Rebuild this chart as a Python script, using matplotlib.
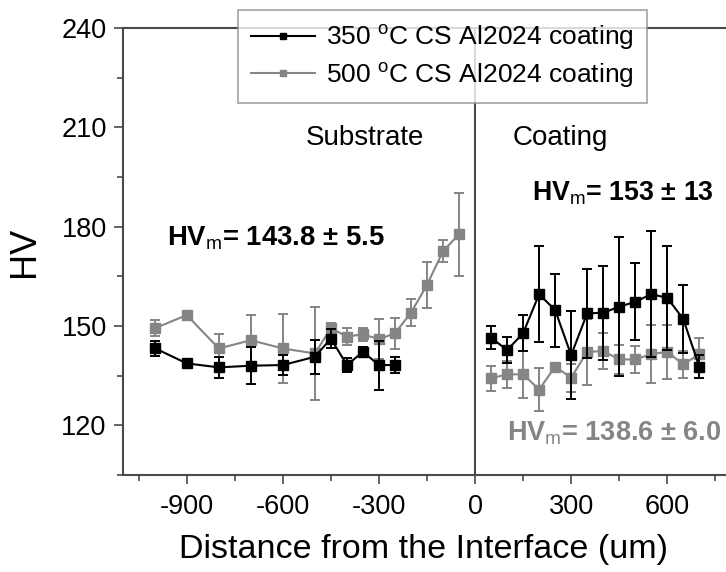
import matplotlib
matplotlib.use("Agg")
import matplotlib.pyplot as plt
import numpy as np
from matplotlib.lines import Line2D

plt.rcParams['font.family'] = ['Liberation Sans', 'DejaVu Sans']
plt.rcParams['mathtext.fontset'] = 'custom'
plt.rcParams['mathtext.rm'] = 'Liberation Sans'
plt.rcParams['mathtext.default'] = 'rm'
plt.rcParams['axes.unicode_minus'] = False

# ---- data ----
# 350 C, substrate
x350_sub = [-1000, -900, -800, -700, -600, -500, -450, -400, -350, -300, -250]
y350_sub = [143.3, 138.7, 137.5, 138.0, 138.2, 140.7, 146.2, 138.2, 142.2, 138.2, 138.2]
e350_sub = [2.3, 0.8, 3.2, 5.6, 3.0, 5.2, 3.0, 2.2, 1.5, 7.4, 2.4]
# 350 C, coating
x350_coat = [50, 100, 150, 200, 250, 300, 350, 400, 450, 500, 550, 600, 650, 700]
y350_coat = [146.5, 142.7, 147.8, 159.6, 154.8, 141.2, 153.8, 154.0, 155.8, 157.3, 159.6, 158.5, 152.1, 137.7]
e350_coat = [3.4, 4.0, 5.4, 14.5, 11.0, 13.4, 13.5, 14.2, 21.0, 11.6, 19.0, 15.8, 10.3, 3.5]
# 500 C, substrate
x500_sub = [-1000, -900, -800, -700, -600, -500, -450, -400, -350, -300, -250, -200, -150, -100, -50]
y500_sub = [149.3, 153.3, 143.2, 145.7, 143.2, 141.7, 149.3, 146.8, 147.5, 146.0, 147.8, 154.0, 162.4, 172.6, 177.7]
e500_sub = [2.4, 1.0, 4.5, 7.7, 10.5, 14.0, 1.5, 2.5, 2.0, 6.0, 4.7, 4.0, 7.0, 3.3, 12.5]
# 500 C, coating
x500_coat = [50, 100, 150, 200, 250, 300, 350, 400, 450, 500, 550, 600, 650, 700]
y500_coat = [134.2, 135.4, 135.4, 130.8, 137.7, 134.4, 142.2, 142.4, 139.9, 139.9, 141.5, 142.2, 138.4, 141.5]
e500_coat = [3.7, 4.0, 7.0, 6.6, 1.0, 4.2, 10.0, 5.4, 4.4, 4.2, 8.8, 8.2, 4.0, 4.9]

labels = ['350 $^{o}$C CS Al2024 coating', '500 $^{o}$C CS Al2024 coating']
xticks = [-900, -600, -300, 0, 300, 600]
yticks = [120, 150, 180, 210, 240]

black = '#000000'
gray = '#858585'
spine_c = '#4a4a4a'

fig = plt.figure(figsize=(7.26, 5.72), dpi=100)
ax = fig.add_axes([0.169, 0.1696, 0.8295, 0.7815])

ax.axvline(0, color=spine_c, lw=1.5, zorder=1)

kw = dict(marker='s', markersize=6.5, lw=1.5, elinewidth=1.4, capsize=3.5, capthick=1.4)
ax.errorbar(x500_sub, y500_sub, yerr=e500_sub, color=gray, zorder=2, **kw)
ax.errorbar(x500_coat, y500_coat, yerr=e500_coat, color=gray, zorder=2, **kw)
ax.errorbar(x350_sub, y350_sub, yerr=e350_sub, color=black, zorder=3, **kw)
ax.errorbar(x350_coat, y350_coat, yerr=e350_coat, color=black, zorder=3, **kw)

ax.set_xlim(-1100, 780)
ax.set_ylim(105, 240)
ax.set_xticks(xticks)
ax.set_yticks(yticks)
ax.set_xticks(np.arange(-1050, 780, 150), minor=True)
ax.set_yticks(np.arange(105, 241, 15), minor=True)
ax.tick_params(axis='both', which='major', direction='out', length=6.5, width=1.2,
               colors=spine_c, labelcolor='black', labelsize=19.5, pad=5)
ax.tick_params(axis='both', which='minor', direction='out', length=4.5, width=1.2, colors=spine_c)
ax.tick_params(axis='x', pad=7)

ax.spines['right'].set_visible(False)
for s in ['left', 'bottom', 'top']:
    ax.spines[s].set_color(spine_c)
    ax.spines[s].set_linewidth(1.5)

ax.set_xlabel('Distance from the Interface (um)', fontsize=24.5, labelpad=10)
ax.set_ylabel('HV', fontsize=26, labelpad=14)

ax.text(-528, 204.6, 'Substrate', fontsize=20, ha='left', va='baseline')
ax.text(116, 204.6, 'Coating', fontsize=20, ha='left', va='baseline')
ax.text(-961, 174.4, r'HV$_{m}$= 143.8 ± 5.5', fontsize=19.8, fontweight='bold', ha='left', va='baseline')
ax.text(179, 188.0, r'HV$_{m}$= 153 ± 13', fontsize=19.3, fontweight='bold', ha='left', va='baseline')
ax.text(101, 115.5, r'HV$_{m}$= 138.6 ± 6.0', fontsize=19.5, fontweight='bold', color=gray, ha='left', va='baseline')

h1 = Line2D([], [], color=black, marker='s', markersize=5, lw=1.5)
h2 = Line2D([], [], color=gray, marker='s', markersize=5, lw=1.5)
leg = fig.legend([h1, h2], labels, loc='upper left', bbox_to_anchor=(238/726, 1-10/572),
                 bbox_transform=fig.transFigure, fontsize=19, frameon=True, fancybox=False,
                 borderaxespad=0, handlelength=2.4, handletextpad=0.45, labelspacing=0.33,
                 borderpad=0.5)
leg.get_frame().set_edgecolor('#8a8a8a')
leg.get_frame().set_linewidth(1.2)
leg.set_zorder(10)

fig.savefig('out.png', dpi=100)
